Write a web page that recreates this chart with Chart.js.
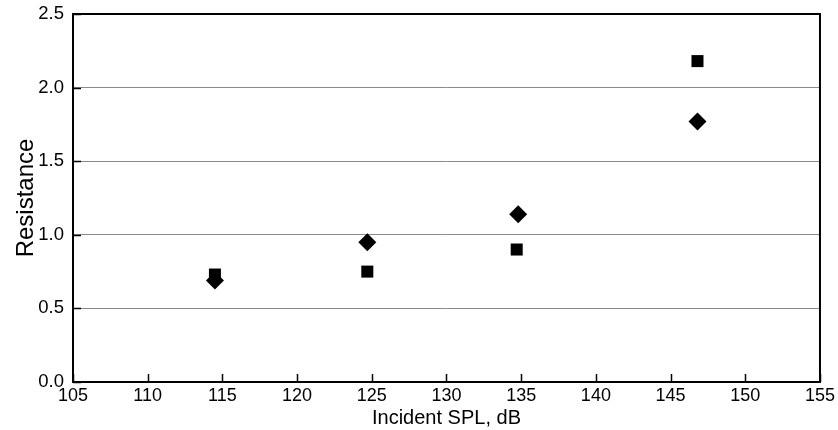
<!DOCTYPE html>
<html>
<head>
<meta charset="utf-8">
<script src="https://cdn.jsdelivr.net/npm/chart.js@4.4.0/dist/chart.umd.min.js"></script>
<style>
  html, body { margin: 0; padding: 0; background: #fff; }
  #wrap { width: 838px; height: 430px; }
</style>
</head>
<body>
<div id="wrap"><canvas id="chart" width="838" height="430"></canvas></div>
<script>
// values
const splSquare = [114.5, 124.7, 134.7, 146.8];
const resSquare = [0.73, 0.75, 0.90, 2.18];
const splDiamond = [114.5, 124.7, 134.8, 146.8];
const resDiamond = [0.69, 0.95, 1.14, 1.77];

const xTicks = [105, 110, 115, 120, 125, 130, 135, 140, 145, 150, 155];
const yTicks = [0.0, 0.5, 1.0, 1.5, 2.0, 2.5];

const FONT = '"Liberation Sans", Arial, Helvetica, sans-serif';

function toPoints(xs, ys) {
  return xs.map((x, i) => ({ x: x, y: ys[i] }));
}

// frame + inward tick marks
const framePlugin = {
  id: 'frame',
  afterDraw(chart) {
    const ctx = chart.ctx;
    const a = chart.chartArea;
    const xs = chart.scales.x, ys = chart.scales.y;
    ctx.save();
    ctx.strokeStyle = '#000';
    ctx.lineWidth = 1.5;
    ctx.beginPath();
    xTicks.forEach(v => {
      const px = Math.round(xs.getPixelForValue(v)) + 0.5;
      ctx.moveTo(px, a.bottom);
      ctx.lineTo(px, a.bottom - 8);
    });
    yTicks.forEach(v => {
      const py = Math.round(ys.getPixelForValue(v)) + 0.5;
      ctx.moveTo(a.left, py);
      ctx.lineTo(a.left + 8, py);
    });
    ctx.stroke();
    ctx.lineWidth = 2;
    ctx.strokeRect(a.left, a.top, a.right - a.left, a.bottom - a.top);
    ctx.restore();
  }
};

window.addEventListener('load', function() {
  new Chart(document.getElementById('chart'), {
    type: 'scatter',
    data: {
      datasets: [
        {
          label: 'square',
          data: toPoints(splSquare, resSquare),
          pointStyle: 'rect',
          pointRadius: 8.5,
          backgroundColor: '#000',
          borderColor: '#000',
          borderWidth: 0
        },
        {
          label: 'diamond',
          data: toPoints(splDiamond, resDiamond),
          pointStyle: 'rectRot',
          pointRadius: 9,
          backgroundColor: '#000',
          borderColor: '#000',
          borderWidth: 0
        }
      ]
    },
    options: {
      responsive: false,
      animation: false,
      layout: { padding: { top: 14, right: 18, left: 12, bottom: 0 } },
      plugins: {
        legend: { display: false },
        tooltip: { enabled: false }
      },
      scales: {
        x: {
          type: 'linear',
          min: 105,
          max: 155,
          afterBuildTicks(scale) { scale.ticks = xTicks.map(v => ({ value: v })); },
          afterFit(scale) { scale.height = 48; },
          grid: { display: false, drawTicks: false },
          border: { display: false },
          ticks: {
            color: '#000',
            padding: 3,
            maxRotation: 0,
            font: { family: FONT, size: 18 },
            callback: v => String(v)
          },
          title: {
            display: true,
            text: 'Incident SPL, dB',
            color: '#000',
            padding: { top: 0, bottom: 0 },
            font: { family: FONT, size: 20 }
          }
        },
        y: {
          type: 'linear',
          min: 0,
          max: 2.5,
          afterBuildTicks(scale) { scale.ticks = yTicks.map(v => ({ value: v })); },
          afterFit(scale) {
            scale.width = 61;
            scale.paddingTop = 0;
            scale.paddingBottom = 0;
          },
          grid: { color: '#8a8a8a', lineWidth: 1, drawTicks: false },
          border: { display: false },
          ticks: {
            color: '#000',
            padding: 9,
            font: { family: FONT, size: 18.5 },
            callback: v => v.toFixed(1)
          },
          title: {
            display: true,
            text: 'Resistance',
            color: '#000',
            padding: { top: 0, bottom: 0 },
            font: { family: FONT, size: 24 }
          }
        }
      }
    },
    plugins: [framePlugin]
  });
});
</script>
</body>
</html>
